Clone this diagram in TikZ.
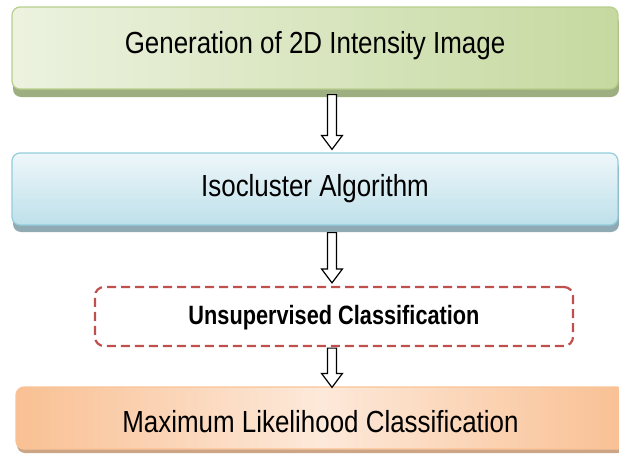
\documentclass[tikz,border=0pt]{standalone}
\usepackage{fontspec}
\setmainfont{Liberation Sans}
\newfontfamily\condfont[FakeStretch=0.85]{Liberation Sans}
\newfontfamily\condbold[FakeStretch=0.82]{Liberation Sans Bold}
\usetikzlibrary{calc}
\definecolor{gLight}{HTML}{ECF2DF}
\definecolor{gDark}{HTML}{C6D9A0}
\definecolor{gBorder}{HTML}{B8CE8C}
\definecolor{gShadow}{HTML}{9DAF80}
\definecolor{bTop}{HTML}{EEF7FA}
\definecolor{bBot}{HTML}{BEE0EA}
\definecolor{bBorder}{HTML}{92CDDC}
\definecolor{bShadow}{HTML}{8FAAB2}
\definecolor{oEdge}{HTML}{F9C093}
\definecolor{oMid}{HTML}{FDE9DA}
\definecolor{oBorder}{HTML}{FAC397}
\definecolor{oShadow}{HTML}{CBA585}
\definecolor{rDash}{HTML}{C0504D}
\tikzset{
  flowbox/.style 2 args={rounded corners=8pt, inner sep=0pt, line width=1.2pt,
    font=\condfont\fontsize{30.5}{30.5}\selectfont,
    preaction={fill=#1, transform canvas={shift={(1,#2)}}}},
  barrow/.style={draw=black, fill=white, line width=1.2pt, line join=miter}
}
\newcommand\blockarr[3]{%
  \draw[barrow] let \p1=(#1), \p2=(#2) in
    ({#3-4.5},\y1) -- ({#3+4.5},\y1) -- ({#3+4.5},{\y2+14pt}) -- ({#3+10.5},{\y2+14pt})
    -- (#3,\y2) -- ({#3-10.5},{\y2+14pt}) -- ({#3-4.5},{\y2+14pt}) -- cycle;}
\begin{document}
\begin{tikzpicture}[x=1pt,y=-1pt]
\useasboundingbox (0,0) rectangle (619,455);
\node[flowbox={gShadow}{8}, draw=gBorder, left color=gLight, right color=gDark,
  minimum width=606pt, minimum height=82pt, text height=22pt, text depth=12pt]
  (b1) at (315,48) {Generation of 2D Intensity Image};
\node[flowbox={bShadow}{7}, draw=bBorder, top color=bTop, bottom color=bBot,
  minimum width=606pt, minimum height=72pt, text height=22pt, text depth=7pt]
  (b2) at (315,189) {Isocluster Algorithm};
\node[rounded corners=9pt, draw=rDash, line width=2.2pt, dash pattern=on 9pt off 5pt,
  inner sep=0pt, minimum width=478pt, minimum height=59pt, text height=19pt, text depth=4pt,
  font=\condbold\fontsize{26.5}{26.5}\selectfont]
  (b3) at (334,316.5) {Unsupervised Classification};
\node[flowbox={oShadow}{4}, draw=oBorder, left color=oEdge, right color=oEdge, middle color=oMid,
  minimum width=609pt, minimum height=62pt, text height=30pt, text depth=2pt]
  (b4) at (320.5,418) {Maximum Likelihood Classification};
\blockarr{$(b1.south)+(0,5)$}{$(b2.north)+(0,-3)$}{332}
\blockarr{$(b2.south)+(0,7)$}{$(b3.north)+(0,-3)$}{332}
\blockarr{$(b3.south)+(0,1)$}{$(b4.north)+(0,1)$}{332}
\end{tikzpicture}
\end{document}
